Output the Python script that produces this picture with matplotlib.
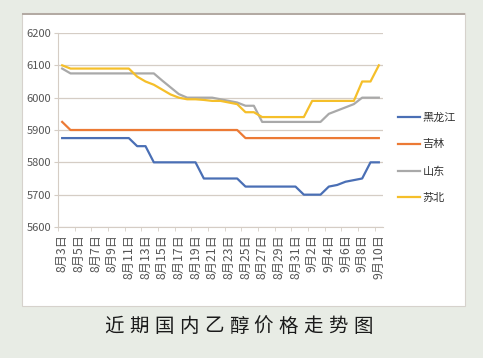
# 近期国内乙醇价格走势图
import matplotlib
matplotlib.use("Agg")
import matplotlib.pyplot as plt
from matplotlib.patches import Rectangle
import numpy as np

plt.rcParams['font.family'] = ['Noto Sans CJK SC', 'DejaVu Sans']

# 日期: 8月3日 到 9月10日, 每天一个点
dates = ["8月%d日" % d for d in range(3, 32)] + ["9月%d日" % d for d in range(1, 11)]

heilongjiang = [5875] * 9 + [5850] * 2 + [5800] * 6 + [5750] * 5 + [5725] * 7 \
    + [5700] * 3 + [5725, 5730, 5740, 5745, 5750, 5800, 5800]
jilin = [5925] + [5900] * 21 + [5875] * 17
shandong = [6090] + [6075] * 11 + [6053, 6032, 6011] + [6000] * 4 \
    + [5995, 5990, 5985, 5975, 5975] + [5925] * 8 + [5950, 5960, 5970, 5980, 6000, 6000, 6000]
subei = [6100] + [6090] * 8 + [6065, 6050, 6040, 6025, 6010, 6000] \
    + [5995, 5995, 5993, 5990, 5990, 5985, 5980, 5955, 5955] + [5940] * 6 \
    + [5990] * 6 + [6050, 6050, 6100]

series = [("黑龙江", heilongjiang, "#4a6fb5"),
          ("吉林", jilin, "#ec7a35"),
          ("山东", shandong, "#a9a9a9"),
          ("苏北", subei, "#f5bf2a")]

yticks = [5600, 5700, 5800, 5900, 6000, 6100, 6200]

W, H = 483, 358
fig = plt.figure(figsize=(W / 100, H / 100), dpi=100)
fig.patch.set_facecolor("#e8ece5")

# 白色面板
fig.patches.append(Rectangle((22 / W, 1 - 306 / H), 443 / W, 293 / H, transform=fig.transFigure,
                             facecolor="white", edgecolor="#d6d2cc", linewidth=0.8, zorder=-2))
fig.patches.append(Rectangle((22 / W, 1 - 15 / H), 443 / W, 2 / H, transform=fig.transFigure,
                             facecolor="#b3aaa3", edgecolor="none", zorder=-1))

ax = fig.add_axes([58 / W, 1 - 227 / H, 325 / W, 194 / H])
ax.set_zorder(2)
ax.set_facecolor("white")
x = np.arange(len(dates))
for name, vals, col in series:
    ax.plot(x, vals, color=col, linewidth=1.6, label=name, zorder=3)

ax.set_xlim(-0.5, len(dates) - 0.5)
ax.set_ylim(5600, 6200)
ax.set_yticks(yticks)
ax.set_yticklabels([str(v) for v in yticks], fontsize=8, color="#555555")
ax.yaxis.grid(True, color="#d5cdc5", linewidth=0.9)
ax.set_axisbelow(True)

ax.set_xticks(x[::2])
ax.set_xticklabels(dates[::2], rotation=90, fontsize=8.8, color="#555555")
ax.set_xticks(np.arange(-0.5, len(dates), 2), minor=True)
ax.tick_params(axis="x", which="major", length=0, pad=5)
ax.tick_params(axis="x", which="minor", length=3, color="#d5cdc5")
ax.tick_params(axis="y", length=3, color="#d5cdc5", pad=2)

for s in ["top", "right"]:
    ax.spines[s].set_visible(False)
ax.spines["left"].set_color("#d5cdc5")
ax.spines["bottom"].set_color("#d5cdc5")

fig.legend(loc="center left", bbox_to_anchor=(388 / W, 1 - 158 / H), frameon=False,
           fontsize=8, handlelength=2.0, handletextpad=0.2, labelspacing=1.5,
           labelcolor="#333333")

# 标题, 字间距较宽
title = "近期国内乙醇价格走势图"
x0, step = 114, 24.9
for i, ch in enumerate(title):
    fig.text((x0 + i * step) / W, 1 - 326 / H, ch, fontsize=14, color="#1a1a1a",
             ha="center", va="center")

fig.savefig("out.png", dpi=100, facecolor=fig.get_facecolor())
